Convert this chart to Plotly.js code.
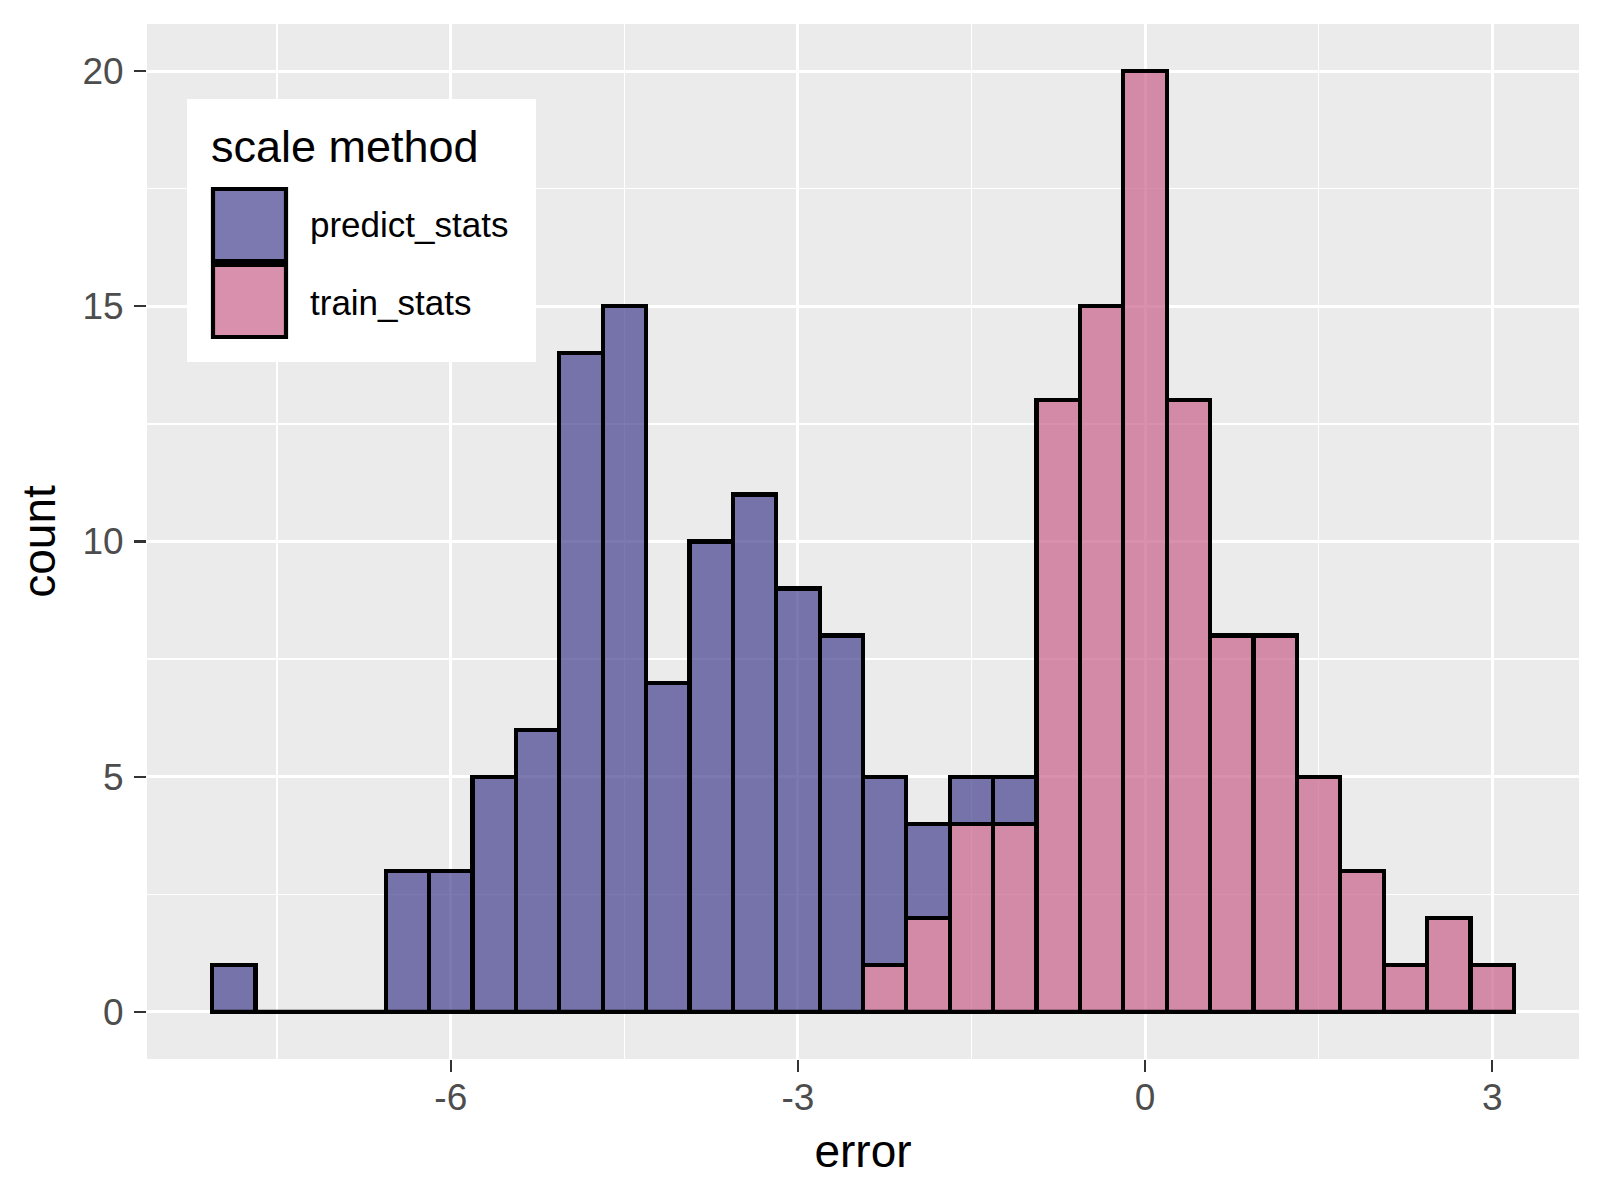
<!DOCTYPE html>
<html>
<head>
<meta charset="utf-8">
<script src="https://cdn.plot.ly/plotly-3.0.1.min.js"></script>
<style>html,body{margin:0;padding:0;background:#fff;}#chart{width:1600px;height:1200px;}</style>
</head>
<body>
<div id="chart"></div>
<script>
// ---- data ----
const binCenters = [-7.875, -7.5, -7.125, -6.75, -6.375, -6.0, -5.625, -5.25, -4.875, -4.5,
                    -4.125, -3.75, -3.375, -3.0, -2.625, -2.25, -1.875, -1.5, -1.125, -0.75,
                    -0.375, 0.0, 0.375, 0.75, 1.125, 1.5, 1.875, 2.25, 2.625, 3.0];
const binWidth = 0.375;
const predictCounts = [1, 0, 0, 0, 3, 3, 5, 6, 14, 15,
                       7, 10, 11, 9, 8, 4, 2, 1, 1, 0,
                       0, 0, 0, 0, 0, 0, 0, 0, 0, 0];
const trainCounts = [0, 0, 0, 0, 0, 0, 0, 0, 0, 0,
                     0, 0, 0, 0, 0, 1, 2, 4, 4, 13,
                     15, 20, 13, 8, 8, 5, 3, 1, 2, 1];
const seriesNames = ["predict_stats", "train_stats"];
const legendTitle = "scale method";
const xTicks = [-6, -3, 0, 3];
const yTicks = [0, 5, 10, 15, 20];

// ---- styling ----
const FONT = "Liberation Sans, Arial, Helvetica, sans-serif";
const purple = "rgba(68,62,142,0.7)";
const pink = "rgba(201,97,138,0.7)";
const outline = 4.2;

const W = 1600, H = 1200;
const M = {l: 147, r: 21, t: 24, b: 141};
const PW = W - M.l - M.r, PH = H - M.t - M.b;
const X = px => (px - M.l) / PW;
const Y = py => (H - M.b - py) / PH;

const leftEdge = binCenters[0] - binWidth / 2;
const rightEdge = binCenters[binCenters.length - 1] + binWidth / 2;

const traces = [
  {
    type: "bar", name: seriesNames[1], x: binCenters, y: trainCounts, width: binWidth,
    marker: {color: pink, line: {color: "#000", width: outline}}, showlegend: false
  },
  {
    type: "bar", name: seriesNames[0], x: binCenters, y: predictCounts, width: binWidth,
    marker: {color: purple, line: {color: "#000", width: outline}}, showlegend: false
  },
  {
    type: "scatter", mode: "lines", x: [leftEdge, rightEdge], y: [0, 0],
    line: {color: "#000", width: outline}, hoverinfo: "skip", showlegend: false
  }
];

// manual ggplot-style legend
const shapes = [
  {type: "rect", xref: "paper", yref: "paper", x0: X(187), x1: X(536), y0: Y(362), y1: Y(99),
   fillcolor: "#ffffff", line: {width: 0}, layer: "above"},
  {type: "rect", xref: "paper", yref: "paper", x0: X(213), x1: X(286), y0: Y(261), y1: Y(189),
   fillcolor: purple, line: {color: "#000", width: outline}, layer: "above"},
  {type: "rect", xref: "paper", yref: "paper", x0: X(213), x1: X(286), y0: Y(337), y1: Y(265),
   fillcolor: pink, line: {color: "#000", width: outline}, layer: "above"}
];
const annotations = [
  {xref: "paper", yref: "paper", x: X(209), y: Y(146), xanchor: "left", yanchor: "middle",
   text: legendTitle, showarrow: false, font: {family: FONT, size: 45, color: "#000"}},
  {xref: "paper", yref: "paper", x: X(308), y: Y(225), xanchor: "left", yanchor: "middle",
   text: seriesNames[0], showarrow: false, font: {family: FONT, size: 35, color: "#000"}},
  {xref: "paper", yref: "paper", x: X(308), y: Y(302), xanchor: "left", yanchor: "middle",
   text: seriesNames[1], showarrow: false, font: {family: FONT, size: 35, color: "#000"}}
];

const layout = {
  width: W, height: H,
  margin: M,
  paper_bgcolor: "#ffffff",
  plot_bgcolor: "#EBEBEB",
  barmode: "stack",
  bargap: 0,
  showlegend: false,
  font: {family: FONT},
  xaxis: {
    range: [-8.625, 3.75], tickvals: xTicks, ticktext: xTicks.map(String),
    showgrid: true, gridcolor: "#ffffff", gridwidth: 3,
    minor: {dtick: 1.5, tick0: 0, showgrid: true, gridcolor: "#ffffff", gridwidth: 1.5, ticks: ""},
    zeroline: false, showline: false,
    ticks: "outside", ticklen: 12, tickwidth: 2.2, tickcolor: "#333333",
    tickfont: {family: FONT, size: 37, color: "#4D4D4D"},
    ticklabelstandoff: -6,
    title: {text: "error", font: {family: FONT, size: 46, color: "#000"}, standoff: 17},
    automargin: false, fixedrange: true
  },
  yaxis: {
    range: [-1, 21], tickvals: yTicks, ticktext: yTicks.map(String),
    showgrid: true, gridcolor: "#ffffff", gridwidth: 3,
    minor: {dtick: 2.5, tick0: 0, showgrid: true, gridcolor: "#ffffff", gridwidth: 1.5, ticks: ""},
    zeroline: false, showline: false,
    ticks: "outside", ticklen: 12, tickwidth: 2.2, tickcolor: "#333333",
    tickfont: {family: FONT, size: 37, color: "#4D4D4D"},
    ticklabelstandoff: 3,
    title: {text: "count", font: {family: FONT, size: 46, color: "#000"}, standoff: 12},
    automargin: false, fixedrange: true
  },
  shapes: shapes,
  annotations: annotations
};

Plotly.newPlot("chart", traces, layout, {displayModeBar: false, staticPlot: true});
</script>
</body>
</html>
